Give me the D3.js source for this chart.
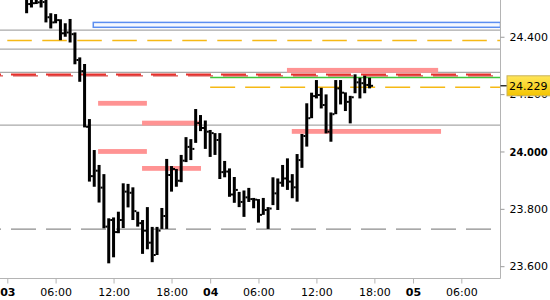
<!DOCTYPE html>
<html><head><meta charset="utf-8">
<script src="https://cdn.jsdelivr.net/npm/d3@7"></script>
<style>html,body{margin:0;padding:0;background:#fff;}svg{display:block;}</style>
</head><body>
<svg id="chart" width="550" height="300"></svg>
<script>
// ---------- data ----------
const days = ["03", "04", "05"];
const sessionOpenHour = 1;          // 30-min bars from 01:00 to 22:00
const sessionCloseHour = 22;
const firstBarTime = "03 03:00";
const highs  = [24.56,24.55,24.56,24.55,24.54,24.482,24.479,24.461,24.447,24.462,24.415,24.328,24.305,24.113,24.005,23.953,23.921,23.767,23.770,23.790,23.889,23.887,23.875,23.790,23.761,23.806,23.737,23.737,23.803,23.974,23.949,23.939,23.988,24.050,24.043,24.148,24.127,24.108,24.075,24.064,24.064,23.967,23.941,23.911,23.859,23.864,23.873,23.838,23.834,23.838,23.806,23.910,23.906,23.953,23.976,23.921,23.991,24.061,24.168,24.205,24.249,24.222,24.199,24.136,24.249,24.249,24.206,24.194,24.269,24.257,24.264,24.257];
const lows   = [24.482,24.502,24.514,24.502,24.450,24.429,24.447,24.388,24.400,24.380,24.304,24.243,24.084,23.895,23.877,23.822,23.732,23.610,23.631,23.715,23.733,23.805,23.761,23.738,23.643,23.659,23.614,23.639,23.730,23.730,23.860,23.877,23.893,23.963,23.970,24.030,24.071,24.009,23.981,23.988,23.904,23.910,23.842,23.821,23.806,23.772,23.824,23.802,23.752,23.779,23.730,23.813,23.796,23.877,23.866,23.837,23.825,23.943,24.017,24.116,24.185,24.150,24.063,24.034,24.130,24.164,24.141,24.098,24.203,24.185,24.203,24.220];
const closes = [24.514,24.517,24.520,24.521,24.468,24.450,24.458,24.412,24.415,24.409,24.319,24.280,24.086,23.914,23.933,23.874,23.738,23.761,23.719,23.761,23.860,23.856,23.792,23.750,23.724,23.682,23.639,23.724,23.775,23.918,23.939,23.898,23.968,24.016,24.009,24.099,24.082,24.069,24.064,24.040,23.928,23.930,23.850,23.866,23.824,23.840,23.834,23.832,23.779,23.796,23.801,23.854,23.891,23.906,23.895,23.875,23.970,24.054,24.116,24.193,24.197,24.162,24.069,24.130,24.220,24.205,24.173,24.189,24.241,24.238,24.232,24.229];
const lastPrice = 24.229;

const xTickTimes = ["03 01:00","03 06:00","03 12:00","03 18:00","04 01:00","04 06:00","04 12:00","04 18:00","05 01:00","05 06:00"];
const yTickValues = [23.6, 23.8, 24.0, 24.2, 24.4];

// horizontal level lines (price)
const grayLevels = [24.423, 24.357, 24.276, 24.092];
const yellowDashLevel = 24.387;
const redDashLevel = 24.267;
const greenLevel = 24.258;
const orangeDashLevel = 24.224;
const grayDashLevel = 23.729;
// blue zone
const blueZone = {from: 17.8, top: 24.450, bottom: 24.433};
// pink level segments: price, from slot, to slot
const pinkLevels = [
  {price: 24.168, from: 18.8, to: 28.9},
  {price: 24.099, from: 27.9, to: 39.9},
  {price: 24.000, from: 18.8, to: 28.9},
  {price: 23.941, from: 27.9, to: 40.1},
  {price: 24.283, from: 57.9, to: 89.2},
  {price: 24.070, from: 58.9, to: 89.8}
];

// ---------- helpers ----------
const barsPerDay = (sessionCloseHour - sessionOpenHour) * 2;
function slotOf(t) {
  const [d, hm] = t.split(" ");
  const [h, m] = hm.split(":").map(Number);
  return days.indexOf(d) * barsPerDay + (h - sessionOpenHour) * 2 + m / 30;
}
const firstSlot = slotOf(firstBarTime);
const bars = highs.map((h, i) => ({slot: firstSlot + i, high: h, low: lows[i], close: closes[i]}));

// ---------- layout ----------
const plotRight = 500.5, plotBottom = 278.5;
const svg = d3.select("#chart");
const x = d3.scaleLinear().domain([0, 100]).range([7.3, 490.3]);
const y = d3.scaleLinear().domain([23.6, 24.4]).range([266.2, 36.75]);

const defs = svg.append("defs");
defs.append("clipPath").attr("id", "plotclip").append("rect")
  .attr("x", 0).attr("y", 0).attr("width", plotRight).attr("height", plotBottom);
const grad = defs.append("linearGradient").attr("id", "gold").attr("x1", 0).attr("y1", 0).attr("x2", 0).attr("y2", 1);
grad.append("stop").attr("offset", "0%").attr("stop-color", "#ffe65a");
grad.append("stop").attr("offset", "100%").attr("stop-color", "#f4c400");

const plot = svg.append("g").attr("clip-path", "url(#plotclip)");

// gray solid levels
plot.selectAll(".glev").data(grayLevels).join("line")
  .attr("x1", 0).attr("x2", plotRight)
  .attr("y1", d => y(d)).attr("y2", d => y(d))
  .attr("stroke", "#a9a9a9").attr("stroke-width", 1.3);

// blue zone
plot.append("rect")
  .attr("x", x(blueZone.from)).attr("y", y(blueZone.top))
  .attr("width", plotRight - x(blueZone.from)).attr("height", y(blueZone.bottom) - y(blueZone.top))
  .attr("fill", "#f6f9ff").attr("stroke", "#5b8ef0").attr("stroke-width", 1.5);

// yellow dashed
plot.append("line").attr("x1", x(0)).attr("x2", plotRight)
  .attr("y1", y(yellowDashLevel)).attr("y2", y(yellowDashLevel))
  .attr("stroke", "#f6b915").attr("stroke-width", 1.5).attr("stroke-dasharray", "24.5 10.5");

// gray dashed
plot.append("line").attr("x1", 0).attr("x2", plotRight)
  .attr("y1", y(grayDashLevel)).attr("y2", y(grayDashLevel))
  .attr("stroke", "#8c8c8c").attr("stroke-width", 1.3)
  .attr("stroke-dasharray", "25 10").attr("stroke-dashoffset", 24);

// green solid from day 04
plot.append("line").attr("x1", x(slotOf("04 01:00"))).attr("x2", plotRight)
  .attr("y1", y(greenLevel)).attr("y2", y(greenLevel))
  .attr("stroke", "#3cc83c").attr("stroke-width", 1.3);

// orange dashed from day 04
plot.append("line").attr("x1", x(slotOf("04 01:00"))).attr("x2", plotRight)
  .attr("y1", y(orangeDashLevel)).attr("y2", y(orangeDashLevel))
  .attr("stroke", "#f6b915").attr("stroke-width", 1.3).attr("stroke-dasharray", "25 10");

// red dashed (two-tone)
plot.append("line").attr("x1", 0).attr("x2", plotRight)
  .attr("y1", y(redDashLevel) - 0.5).attr("y2", y(redDashLevel) - 0.5)
  .attr("stroke", "#e8302c").attr("stroke-width", 2)
  .attr("stroke-dasharray", "25 10").attr("stroke-dashoffset", 24);
plot.append("line").attr("x1", 0).attr("x2", plotRight)
  .attr("y1", y(redDashLevel) + 1).attr("y2", y(redDashLevel) + 1)
  .attr("stroke", "#d2201e").attr("stroke-width", 1)
  .attr("stroke-dasharray", "25 10").attr("stroke-dashoffset", 22);

// pink levels
plot.selectAll(".pink").data(pinkLevels).join("rect")
  .attr("x", d => x(d.from)).attr("width", d => x(d.to) - x(d.from))
  .attr("y", d => y(d.price) - 2.4).attr("height", 4.8)
  .attr("fill", "#ff9393");

// bars (HLC)
const bg = plot.append("g");
bg.selectAll(".bar").data(bars).join("rect")
  .attr("x", d => x(d.slot) - 1.5).attr("width", 3)
  .attr("y", d => y(d.high)).attr("height", d => Math.max(1, y(d.low) - y(d.high)))
  .attr("fill", "#000");
bg.selectAll(".cls").data(bars).join("rect")
  .attr("x", d => x(d.slot) + 1.5).attr("width", 2)
  .attr("y", d => y(d.close) - 1).attr("height", 2)
  .attr("fill", "#000");

// axes lines
svg.append("line").attr("x1", plotRight).attr("x2", plotRight).attr("y1", 0).attr("y2", plotBottom)
  .attr("stroke", "#b4b4b4").attr("stroke-width", 1);
svg.append("line").attr("x1", 0).attr("x2", plotRight).attr("y1", plotBottom).attr("y2", plotBottom)
  .attr("stroke", "#b4b4b4").attr("stroke-width", 1);

// right axis
const yAxis = d3.axisRight(y).tickValues(yTickValues).tickFormat(d3.format(".3f")).tickSize(4).tickPadding(5);
const ya = svg.append("g").attr("transform", `translate(${plotRight},0)`).call(yAxis);
ya.select(".domain").remove();
ya.selectAll(".tick line").attr("stroke", "#9a9a9a");
ya.selectAll(".tick text").attr("font-family", "DejaVu Sans").attr("font-size", 11).attr("fill", "#000");
ya.selectAll(".tick text").filter(d => Math.abs(d - 24.0) < 1e-9)
  .attr("font-family", "DejaVu Sans Condensed, DejaVu Sans").attr("font-weight", "bold");

// bottom axis
const xTickSlots = xTickTimes.map(slotOf);
const xAxis = d3.axisBottom(x).tickValues(xTickSlots).tickSize(5).tickPadding(5)
  .tickFormat((d, i) => {
    const [dd, hm] = xTickTimes[i].split(" ");
    return slotOf(xTickTimes[i]) % barsPerDay === 0 ? dd : hm;
  });
const xa = svg.append("g").attr("transform", `translate(0,${plotBottom})`).call(xAxis);
xa.select(".domain").remove();
xa.selectAll(".tick line").attr("stroke", "#b4b4b4");
xa.selectAll(".tick text").attr("font-family", "DejaVu Sans").attr("font-size", 11).attr("fill", "#000")
  .attr("font-weight", d => d % barsPerDay === 0 ? "bold" : "normal");

// current price marker
const py = y(lastPrice);
svg.append("line").attr("x1", plotRight).attr("x2", 507).attr("y1", py).attr("y2", py)
  .attr("stroke", "#000").attr("stroke-width", 1.2);
svg.append("rect").attr("x", 507).attr("y", py - 10).attr("width", 50).attr("height", 20)
  .attr("fill", "url(#gold)").attr("stroke", "#c9b25a").attr("stroke-width", 1);
svg.append("text").attr("x", 509).attr("y", py).attr("dy", "0.35em")
  .attr("font-family", "DejaVu Sans").attr("font-size", 11).attr("fill", "#000")
  .text(d3.format(".3f")(lastPrice));
</script>
</body></html>
